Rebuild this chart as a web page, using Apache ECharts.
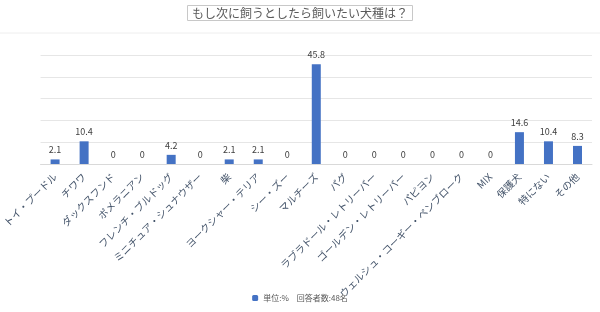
<!DOCTYPE html>
<html>
<head>
<meta charset="utf-8">
<script src="https://cdn.jsdelivr.net/npm/echarts@6/dist/echarts.min.js"></script>
<style>
  html, body { margin: 0; padding: 0; background: #fff; }
  #chart { width: 600px; height: 312px; }
</style>
</head>
<body>
<div id="chart"></div>
<script>
const titleText = "もし次に飼うとしたら飼いたい犬種は？";
const seriesName = "単位:%　回答者数:48名";
const breeds = [
  "トイ・プードル", "チワワ", "ダックスフンド", "ポメラニアン",
  "フレンチ・ブルドッグ", "ミニチュア・シュナウザー", "柴",
  "ヨークシャー・テリア", "シー・ズー", "マルチーズ", "パグ",
  "ラブラドール・レトリーバー", "ゴールデン・レトリーバー", "パピヨン",
  "ウェルシュ・コーギー・ペンブローク", "MIX", "保護犬", "特にない", "その他"
];
const percents = [2.1, 10.4, 0, 0, 4.2, 0, 2.1, 2.1, 0, 45.8, 0, 0, 0, 0, 0, 0, 14.6, 10.4, 8.3];

const font = "'Noto Sans CJK JP', 'Noto Sans', sans-serif";
const chart = echarts.init(document.getElementById("chart"));
chart.setOption({
  animation: false,
  textStyle: { fontFamily: font },
  title: {
    text: titleText,
    left: "center",
    top: 5,
    padding: [2, 5, 2, 5],
    borderColor: "#c8c8c8",
    borderWidth: 1,
    textStyle: { fontSize: 12, fontWeight: "normal", color: "#595959", fontFamily: font }
  },
  graphic: [
    {
      type: "line",
      shape: { x1: 0, y1: 33, x2: 600, y2: 33 },
      style: { stroke: "#eeeeee", lineWidth: 1 }
    }
  ],
  legend: {
    bottom: 5,
    left: "center",
    itemWidth: 6,
    itemHeight: 6,
    textStyle: { fontSize: 8, color: "#595959", fontFamily: font },
    data: [seriesName]
  },
  grid: { left: 38, right: 8, top: 55, bottom: 148 },
  xAxis: {
    type: "category",
    data: breeds,
    axisTick: { show: false },
    axisLine: { lineStyle: { color: "#d9d9d9" } },
    axisLabel: {
      rotate: 45,
      interval: 0,
      fontSize: 10,
      color: "#44546a",
      margin: 11,
      fontFamily: font
    }
  },
  yAxis: {
    type: "value",
    min: 0,
    max: 50,
    interval: 10,
    axisLabel: { show: false },
    axisLine: { show: false },
    axisTick: { show: false },
    splitLine: { lineStyle: { color: "#e6e6e6" } }
  },
  series: [
    {
      name: seriesName,
      type: "bar",
      data: percents,
      barWidth: 9,
      itemStyle: { color: "#4472c4" },
      label: {
        show: true,
        position: "top",
        distance: 5,
        fontSize: 9,
        color: "#404040",
        fontFamily: font
      }
    }
  ]
});
</script>
</body>
</html>
